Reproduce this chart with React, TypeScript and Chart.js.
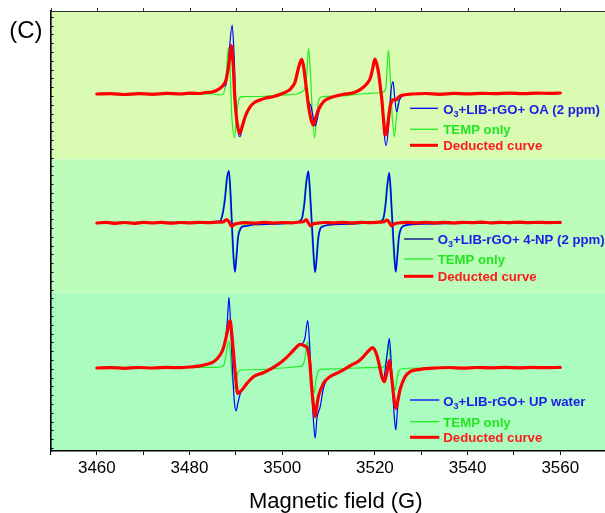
import React, { useEffect, useRef } from 'react';
import { Chart, registerables } from 'chart.js';

Chart.register(...registerables);

type Pt = [number, number];

// ---------- data (field in G, intensity in arbitrary units relative to each panel's baseline) ----------
const xTickLabels = [3460, 3480, 3500, 3520, 3540, 3560];
const sampleNames = ['OA (2 ppm)', '4-NP (2 ppm)', 'UP water'];
const seriesNames = ['TEMP only', 'Deducted curve'];
// vertical offsets of the three stacked spectra (top, middle, bottom)
const panelOffsets = [357, 228, 83];
// background panel ranges in y units
const panelBands: Pt[] = [[291.7, 440], [158.3, 291.7], [0, 158.3]];

const topRed: Pt[] = [
  [3460, 0], [3463, 0.3], [3466, -0.5], [3469, 0.4], [3472, -0.3], [3475, 0.6], [3478, 0], [3480, 0.8],
  [3482, 0.5], [3483.5, 1.5], [3484.8, 2], [3485.8, 3.5], [3486.6, 5.7], [3487.3, 9], [3487.8, 13],
  [3488.3, 24], [3488.7, 38], [3489.0, 48.3], [3489.4, 30], [3489.8, -6], [3490.3, -30], [3490.8, -39.3],
  [3491.4, -32], [3492.0, -22.7], [3493.1, -12.7], [3494, -8.5], [3495.2, -6], [3496.5, -4], [3498.0, -2.7],
  [3500.2, 0.7], [3501.2, 3], [3501.7, 4.7], [3502.3, 8], [3502.8, 12.3], [3503.4, 24], [3504.2, 34.7],
  [3504.6, 28], [3504.9, 17.3], [3505.3, 2], [3505.7, -12.7], [3506.2, -25], [3506.7, -31], [3507.2, -24],
  [3507.8, -16], [3508.9, -7.7], [3510, -4.5], [3511.0, -2.7], [3513, -0.5], [3515.4, 1.3], [3516.5, 3.5],
  [3517.5, 6.7], [3518.3, 10.5], [3519.0, 15.7], [3519.5, 25], [3520.0, 35], [3520.4, 30], [3520.8, 20.7],
  [3521.2, 6], [3521.5, -6], [3521.9, -28], [3522.2, -41], [3522.6, -36], [3522.9, -26], [3523.3, -12],
  [3523.6, -7.7], [3524.0, -5.5], [3524.5, -6], [3525.2, -2.7], [3526.2, -1], [3528, 0], [3531, 0.5],
  [3534, -0.3], [3537, 0.6], [3540, 0.2], [3543, 0.7], [3546, 0.3], [3549, 0.8], [3552, 0.4], [3555, 0.9],
  [3558, 0.6], [3560, 1],
];
const topBlue: Pt[] = [
  [3460, 0], [3470, 0.3], [3478, 0.2], [3482, 0.6], [3484.8, 1.8], [3486, 4], [3486.8, 7], [3487.4, 9],
  [3487.8, 8], [3488.2, 20], [3488.7, 50], [3489.2, 69], [3489.6, 40], [3490.0, -10], [3490.5, -38],
  [3490.9, -42.7], [3491.4, -34], [3492.0, -23], [3493.1, -12.7], [3495.2, -6], [3498, -2.7], [3500.2, 0.7],
  [3501.7, 4.7], [3502.8, 12.3], [3503.4, 24], [3504.2, 35.5], [3504.6, 30], [3504.9, 18], [3505.3, 2],
  [3505.7, -8], [3506.2, -12], [3506.7, -24], [3507.1, -32], [3507.6, -24], [3508.2, -12], [3508.9, -7.7],
  [3511, -2.7], [3515.4, 1.3], [3517.5, 6.7], [3519, 15.7], [3520, 35.5], [3520.8, 20.7], [3521.5, -8],
  [3522.0, -40], [3522.4, -51.7], [3522.9, -35], [3523.4, 0], [3523.9, 12.3], [3524.3, -5], [3524.7, -17.7],
  [3525.3, -6], [3526.2, -1.5], [3528, 0], [3540, 0.4], [3560, 0.8],
];
const topGreen: Pt[] = [
  [3460, 0], [3470, 0.3], [3480, 0.2], [3485, 0], [3486.5, -1], [3487.3, 0], [3487.8, 12], [3488.4, 46.3],
  [3488.8, 20], [3489.1, -20], [3489.7, -43.7], [3490.1, -25], [3490.6, -6], [3491.3, -2.7], [3495, -2.5],
  [3500, -1], [3503, 0], [3504.2, 2.3], [3504.9, 6], [3505.2, 14], [3505.7, 45.7], [3506.1, 20],
  [3506.5, -20], [3507.0, -43.7], [3507.4, -25], [3507.9, -6], [3508.6, -2.7], [3512, -2], [3516, -0.5],
  [3519, 0.7], [3521.5, 1.5], [3522.3, 5], [3522.5, 14], [3522.9, 44], [3523.3, 18], [3523.7, -20],
  [3524.2, -42.7], [3524.6, -25], [3525.1, -6], [3525.8, -1.5], [3530, 0], [3560, 0.5],
];

const midRed: Pt[] = [
  [3460, 0], [3462, 0.6], [3464, -0.4], [3466, 0.5], [3468, -0.3], [3470, 0.7], [3472, 0], [3474, 0.6],
  [3476, -0.2], [3478, 0.5], [3480, 0.1], [3482, 0.7], [3484, 0.3], [3486, 0.8], [3487.2, 1], [3488.0, 3.5],
  [3488.6, 0.5], [3489.1, -3.5], [3489.6, -1.5], [3490.3, -0.5], [3492, 0.3], [3494, -0.2], [3496, 0.6],
  [3498, 0], [3500, 0.5], [3502, 0.2], [3504, 1], [3504.6, 1.5], [3505.2, 3.5], [3505.6, 0.5], [3506.1, -3],
  [3506.6, -1], [3507.4, -0.3], [3509, 0.5], [3511, 0.1], [3513, 0.6], [3515, 0], [3517, 0.7], [3519, 0.3],
  [3521, 0.8], [3522, 1.2], [3522.6, 3], [3523.1, 0.5], [3523.6, -3], [3524.1, -1.2], [3525, 0],
  [3527, 0.6], [3529, 0.1], [3531, 0.7], [3533, 0.2], [3535, 0.6], [3537, 0], [3539, 0.7], [3541, 0.3],
  [3543, 0.8], [3545, 0.2], [3547, 0.7], [3549, 0.3], [3551, 0.8], [3553, 0.3], [3555, 0.7], [3557, 0.4],
  [3560, 0.6],
];
const midBlue: Pt[] = [
  [3460, 0], [3465, 0.5], [3470, 0], [3475, 0.5], [3480, 0.3], [3484, 1], [3486, 1.5], [3486.6, 2],
  [3487.2, 10], [3487.7, 26], [3488.1, 45], [3488.5, 52.3], [3488.8, 35], [3489.1, 6], [3489.4, -25],
  [3489.8, -49], [3490.1, -36], [3490.5, -14], [3490.9, -7], [3491.3, -4], [3492.4, -3], [3494, -1.5],
  [3498, -1], [3502, 0], [3503.5, 1.5], [3504.3, 5], [3504.8, 20], [3505.2, 40], [3505.65, 52], [3506, 32],
  [3506.3, 8], [3506.7, -25], [3507.1, -49.3], [3507.4, -38], [3507.8, -15], [3508.2, -6], [3508.8, -3.5],
  [3510, -2], [3514, -1], [3518, 0], [3521, 1], [3521.8, 4], [3522.3, 18], [3522.7, 38], [3523.1, 50.3],
  [3523.4, 34], [3523.7, 8], [3524.1, -25], [3524.5, -49], [3524.8, -36], [3525.2, -14], [3525.6, -6],
  [3526.2, -3], [3528, -1.5], [3535, -0.5], [3545, 0], [3560, 0],
];
const midGreen: Pt[] = [
  [3460, 0], [3470, 0.2], [3480, 0.3], [3485, 0.8], [3486.5, 1.5], [3487.1, 10], [3487.6, 26], [3488.0, 45],
  [3488.4, 51], [3488.7, 35], [3489.0, 6], [3489.3, -25], [3489.7, -48], [3490.0, -36], [3490.4, -14],
  [3490.8, -6], [3491.5, -3], [3494, -1.5], [3500, -0.5], [3503.5, 1.5], [3504.2, 5], [3504.7, 20],
  [3505.1, 40], [3505.55, 51], [3505.9, 32], [3506.2, 8], [3506.6, -25], [3507.0, -48], [3507.3, -38],
  [3507.7, -15], [3508.1, -6], [3508.8, -3], [3514, -1], [3520, 0.5], [3521.7, 4], [3522.2, 18],
  [3522.6, 38], [3523.0, 49], [3523.3, 34], [3523.6, 8], [3524.0, -25], [3524.4, -48], [3524.7, -36],
  [3525.1, -14], [3525.5, -6], [3526.2, -2.5], [3530, -0.5], [3560, 0],
];

const botRed: Pt[] = [
  [3460, 0], [3463, 0.4], [3466, -0.3], [3469, 0.5], [3472, 0], [3475, 0.6], [3478, 0.3], [3480, 1],
  [3482, 1.8], [3483.5, 3.5], [3485.2, 6.3], [3486.6, 13], [3487.3, 19.7], [3488.0, 33], [3488.4, 42],
  [3488.76, 47.3], [3489.1, 35], [3489.5, 14.7], [3490.0, -12], [3490.4, -25.3], [3491.3, -22],
  [3492.4, -15.3], [3493.8, -8.7], [3495.9, -4.7], [3498.1, 0.7], [3499.9, 6.3], [3501.7, 14],
  [3502.8, 19.7], [3503.9, 23.7], [3504.9, 22], [3505.4, 20], [3505.9, 8], [3506.4, -22], [3506.8, -40],
  [3507.1, -48.7], [3507.4, -40], [3507.8, -28.7], [3508.9, -15.3], [3510.3, -8.7], [3512.5, -3.7],
  [3514.6, 2], [3516.8, 8], [3518.6, 17], [3519.5, 20.3], [3520.4, 13], [3521.0, 2], [3521.5, -8.7],
  [3522.05, -13.7], [3522.6, -3.7], [3523.1, 7.3], [3523.5, -5], [3523.9, -22], [3524.2, -34],
  [3524.5, -40.3], [3524.9, -34], [3525.4, -22], [3526.5, -8.7], [3527.6, -3.7], [3529.8, -1.3],
  [3533, 0], [3536, 0.5], [3539, -0.2], [3542, 0.5], [3545, 0.1], [3548, 0.6], [3551, 0.2], [3554, 0.6],
  [3557, 0.3], [3560, 0.6],
];
const botBlue: Pt[] = [
  [3460, 0], [3470, 0.3], [3480, 1], [3483, 3], [3485.2, 6.3], [3486.6, 13], [3487.3, 21.3], [3487.8, 30],
  [3488.2, 50], [3488.5, 70.7], [3488.9, 40], [3489.3, -5], [3489.7, -35], [3490.05, -43], [3490.5, -33.7],
  [3491.0, -25], [3491.3, -22], [3492.4, -15.3], [3493.8, -8.7], [3495.9, -4.7], [3498.1, 0.7],
  [3499.9, 6.3], [3501.7, 14], [3502.8, 19.7], [3503.9, 23.7], [3504.5, 25], [3504.9, 30], [3505.5, 47.3],
  [3505.9, 25], [3506.3, -15], [3506.7, -50], [3507.1, -70.3], [3507.5, -50], [3508.2, -38.7],
  [3508.9, -20], [3509.6, -12], [3510.3, -8.7], [3512.5, -3.7], [3514.6, 2], [3516.8, 8], [3518.6, 17],
  [3519.5, 20.3], [3520.4, 13], [3521.1, -4], [3521.8, -12], [3522.4, 5], [3522.8, 20], [3523.1, 29.7],
  [3523.4, 15], [3523.8, -20], [3524.2, -50], [3524.5, -62], [3524.9, -40], [3525.4, -22], [3526.5, -8.7],
  [3527.6, -3.7], [3529.8, -1.3], [3535, 0], [3560, 0.3],
];
const botGreen: Pt[] = [
  [3460, 0], [3470, 0.3], [3480, 0.5], [3486, 0.7], [3487.2, 1.5], [3487.7, 8], [3488.1, 20], [3488.5, 27],
  [3488.8, 15], [3489.1, -5], [3489.5, -17], [3489.8, -20.3], [3490.1, -12], [3490.5, -4], [3491, -2],
  [3495, -1.5], [3500, 0], [3503.5, 1.3], [3504.5, 3], [3505.0, 12], [3505.5, 26.3], [3505.8, 15],
  [3506.2, -5], [3506.6, -20], [3506.9, -24.7], [3507.3, -12], [3507.7, -4], [3508.2, -1.3], [3512, -0.8],
  [3518, 0.3], [3521.5, 0.7], [3522.2, 3], [3522.6, 14], [3522.9, 24.7], [3523.2, 14], [3523.6, -5],
  [3524.0, -18], [3524.4, -22], [3524.7, -12], [3525.1, -4], [3525.6, -1], [3530, 0], [3560, 0.3],
];

// ---------- styles ----------
const FONT = '"Liberation Sans", Arial, Helvetica, sans-serif';
const BLUE = '#0000ff';
const GREEN = '#22ee22';
const RED = '#ff0000';
const BAND_COLORS = ['#d9fbb2', '#bcfdbc', '#aafdbe'];
const TEXT_BLUE = '#1c1ce8';
const TEXT_GREEN = '#22e622';
const TEXT_RED = '#ff1c1c';

// legend placement per panel (pixels)
const LEGENDS = [
  { x1: 410, x2: 438, tx: 443.3, lineY: [108.3, 129.3, 145.3], textY: [114.3, 134.3, 150], blueLine: BLUE },
  { x1: 404, x2: 433.3, tx: 437.7, lineY: [239, 259, 276.3], textY: [244.3, 264.3, 281], blueLine: '#000080' },
  { x1: 410, x2: 439.3, tx: 443.3, lineY: [400, 421.7, 437.3], textY: [405.7, 426.7, 442.3], blueLine: BLUE },
];

const decorPlugin = {
  id: 'decor',
  beforeDraw(chart: any) {
    const { ctx, chartArea: a, scales } = chart;
    const ys = scales.y;
    ctx.save();
    panelBands.forEach((b, i) => {
      const yTop = ys.getPixelForValue(b[1]);
      const yBot = ys.getPixelForValue(b[0]);
      ctx.fillStyle = BAND_COLORS[i];
      ctx.fillRect(a.left, yTop, a.right - a.left, yBot - yTop);
    });
    ctx.restore();
  },
  afterDraw(chart: any) {
    const { ctx, chartArea: a, scales } = chart;
    const xs = scales.x;
    const ys = scales.y;
    ctx.save();
    // top frame line
    ctx.strokeStyle = '#333';
    ctx.lineWidth = 1;
    ctx.beginPath();
    ctx.moveTo(a.left, a.top + 0.5);
    ctx.lineTo(a.right, a.top + 0.5);
    ctx.stroke();
    // top axis ticks
    ctx.beginPath();
    for (let g = 3450; g <= 3570; g += 10) {
      const px = Math.round(xs.getPixelForValue(g)) + 0.5;
      ctx.moveTo(px, a.top);
      ctx.lineTo(px, a.top - 3);
    }
    ctx.stroke();
    // left axis inner ticks
    ctx.strokeStyle = '#000';
    ctx.beginPath();
    for (let v = 3; v < 440; v += 8.8) {
      const py = Math.round(ys.getPixelForValue(v)) + 0.5;
      ctx.moveTo(a.left, py);
      ctx.lineTo(a.left + 3, py);
    }
    ctx.stroke();

    // legends
    LEGENDS.forEach((lg, i) => {
      const lineColors = [lg.blueLine, GREEN, RED];
      const lineWidths = [1.3, 1.3, 3];
      const textColors = [TEXT_BLUE, TEXT_GREEN, TEXT_RED];
      for (let r = 0; r < 3; r++) {
        ctx.strokeStyle = lineColors[r];
        ctx.lineWidth = lineWidths[r];
        ctx.beginPath();
        ctx.moveTo(lg.x1, lg.lineY[r]);
        ctx.lineTo(lg.x2, lg.lineY[r]);
        ctx.stroke();
        ctx.fillStyle = textColors[r];
        ctx.textBaseline = 'alphabetic';
        ctx.textAlign = 'left';
        const big = `bold 13.2px ${FONT}`;
        const small = `bold 9px ${FONT}`;
        if (r === 0) {
          let x = lg.tx;
          ctx.font = big;
          ctx.fillText('O', x, lg.textY[r]);
          x += ctx.measureText('O').width;
          ctx.font = small;
          ctx.fillText('3', x, lg.textY[r] + 3);
          x += ctx.measureText('3').width;
          ctx.font = big;
          ctx.fillText('+LIB-rGO+ ' + sampleNames[i], x, lg.textY[r]);
        } else {
          ctx.font = big;
          ctx.fillText(seriesNames[r - 1], lg.tx, lg.textY[r]);
        }
      }
    });

    // panel label
    ctx.fillStyle = '#000';
    ctx.font = `24px ${FONT}`;
    ctx.textAlign = 'left';
    ctx.textBaseline = 'alphabetic';
    ctx.fillText('(C)', 9.3, 37.7);
    ctx.restore();
  },
};

export default function App() {
  const ref = useRef<HTMLCanvasElement | null>(null);

  useEffect(() => {
    if (!ref.current) return;
    const curves: { pts: Pt[]; panel: number; color: string; width: number; label: string }[] = [
      { pts: topRed, panel: 0, color: RED, width: 3.2, label: 'Deducted curve (OA)' },
      { pts: midRed, panel: 1, color: RED, width: 3.2, label: 'Deducted curve (4-NP)' },
      { pts: botRed, panel: 2, color: RED, width: 3.2, label: 'Deducted curve (UP water)' },
      { pts: topBlue, panel: 0, color: BLUE, width: 1.2, label: 'O3+LIB-rGO+ OA (2 ppm)' },
      { pts: midBlue, panel: 1, color: BLUE, width: 1.6, label: 'O3+LIB-rGO+ 4-NP (2 ppm)' },
      { pts: botBlue, panel: 2, color: BLUE, width: 1.2, label: 'O3+LIB-rGO+ UP water' },
      { pts: topGreen, panel: 0, color: GREEN, width: 1.2, label: 'TEMP only (1)' },
      { pts: midGreen, panel: 1, color: GREEN, width: 1.6, label: 'TEMP only (2)' },
      { pts: botGreen, panel: 2, color: GREEN, width: 1.2, label: 'TEMP only (3)' },
    ];
    const datasets = curves.map((c) => ({
      label: c.label,
      data: c.pts.map(([x, y]) => ({ x, y: y + panelOffsets[c.panel] })),
      borderColor: c.color,
      backgroundColor: c.color,
      borderWidth: c.width,
      pointRadius: 0,
      fill: false,
      tension: 0.4,
      cubicInterpolationMode: 'monotone' as const,
      borderJoinStyle: 'round' as const,
      borderCapStyle: 'round' as const,
    }));

    const chart = new Chart(ref.current, {
      type: 'line',
      data: { datasets },
      options: {
        animation: false,
        responsive: false,
        devicePixelRatio: 1,
        layout: { padding: { left: 50.5, top: 11, right: 5, bottom: 0 } },
        plugins: { legend: { display: false }, tooltip: { enabled: false } },
        events: [],
        scales: {
          x: {
            type: 'linear',
            position: 'bottom',
            min: 3450,
            max: 3573.1,
            afterFit: (s: any) => {
              s.height = 69;
            },
            grid: { display: true, drawOnChartArea: false, drawTicks: true, tickLength: 4, color: '#000', lineWidth: 1 },
            border: { display: true, color: '#000', width: 1.6 },
            ticks: {
              stepSize: 10,
              autoSkip: false,
              maxRotation: 0,
              includeBounds: false,
              padding: 3,
              color: '#000',
              font: { family: FONT, size: 17 },
              callback: (v: any) => {
                const n = Math.round(Number(v));
                return xTickLabels.includes(n) ? String(n) : '';
              },
            },
            title: {
              display: true,
              text: 'Magnetic field (G)',
              color: '#000',
              font: { family: FONT, size: 22 },
              padding: { top: 0, bottom: 5 },
            },
          },
          y: {
            type: 'linear',
            min: 0,
            max: 440,
            afterFit: (s: any) => {
              s.width = 0;
            },
            grid: { display: false },
            border: { display: true, color: '#000', width: 1.6 },
            ticks: { display: false },
          },
        },
      },
      plugins: [decorPlugin],
    });
    return () => chart.destroy();
  }, []);

  return (
    <div
      style={{
        position: 'fixed',
        left: 0,
        top: 0,
        width: 605,
        height: 513,
        overflow: 'hidden',
        background: '#fff',
      }}
    >
      <canvas ref={ref} width={626} height={520} style={{ display: 'block', width: 626, height: 520 }} />
    </div>
  );
}
